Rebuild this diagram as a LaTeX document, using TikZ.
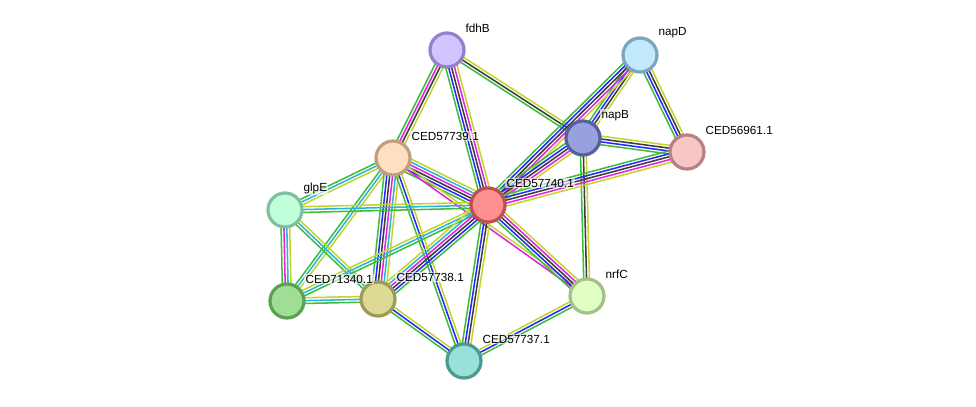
\documentclass[tikz,border=0pt]{standalone}
\usepackage{fontspec}
\setmainfont{Liberation Sans}
\usetikzlibrary{calc, backgrounds}

% evidence channel colours
\definecolor{lnkG}{RGB}{60,190,60}
\definecolor{lnkB}{RGB}{40,40,250}
\definecolor{lnkK}{RGB}{60,60,60}
\definecolor{lnkM}{RGB}{225,35,225}
\definecolor{lnkC}{RGB}{45,180,215}
\definecolor{lnkY}{RGB}{195,212,45}

% one link = several parallel coloured lines between two nodes
\newcommand{\protlink}[3]{%
  \foreach \col [count=\n] in {#3} {\xdef\nlnk{\n}}%
  \foreach \col [count=\i] in {#3} {%
    \pgfmathsetmacro\off{(\i-(\nlnk+1)/2)*2.15}%
    \draw[lnk, draw=\col] ($(#1)!\off pt!90:(#2)$) -- ($(#2)!\off pt!-90:(#1)$);
  }%
}

\begin{document}
\begin{tikzpicture}[
    x=0.75pt, y=-0.75pt,
    % protein bubbles
    prot/.style={
        circle,
        draw,
        line width=2.4pt,
        minimum size=25.5pt,
        inner sep=0pt
    },
    % protein names
    lbl/.style={
        anchor=west,
        font=\fontsize{8.8}{10}\selectfont,
        fill=white, fill opacity=0.6, text opacity=1,
        inner sep=1pt
    },
    lnk/.style={line width=1.15pt}
]
\useasboundingbox (0,0) rectangle (976,407);

% =====================================================================
% PROTEINS
% =====================================================================
\node (fdhB)  [prot, fill={rgb,255:red,209;green,196;blue,255}, draw={rgb,255:red,150;green,128;blue,200}] at (447,50) {};
\node (napD)  [prot, fill={rgb,255:red,194;green,232;blue,251}, draw={rgb,255:red,122;green,166;blue,192}] at (640,55) {};
\node (napB)  [prot, fill={rgb,255:red,152;green,160;blue,221}, draw={rgb,255:red,84;green,96;blue,160}] at (583,138) {};
\node (ced61) [prot, fill={rgb,255:red,247;green,199;blue,199}, draw={rgb,255:red,184;green,128;blue,128}] at (687,152) {};
\node (ced39) [prot, fill={rgb,255:red,255;green,223;blue,191}, draw={rgb,255:red,190;green,160;blue,128}] at (393,158) {};
\node (ced40) [prot, fill={rgb,255:red,255;green,144;blue,144}, draw={rgb,255:red,192;green,80;blue,80}] at (488,205) {};
\node (glpE)  [prot, fill={rgb,255:red,192;green,255;blue,218}, draw={rgb,255:red,128;green,192;blue,160}] at (285,210) {};
\node (ced71) [prot, fill={rgb,255:red,158;green,223;blue,149}, draw={rgb,255:red,94;green,158;blue,85}] at (287,301) {};
\node (ced38) [prot, fill={rgb,255:red,221;green,218;blue,150}, draw={rgb,255:red,158;green,154;blue,88}] at (378,299) {};
\node (nrfC)  [prot, fill={rgb,255:red,225;green,255;blue,195}, draw={rgb,255:red,162;green,192;blue,138}] at (587,296) {};
\node (ced37) [prot, fill={rgb,255:red,153;green,224;blue,216}, draw={rgb,255:red,74;green,154;blue,144}] at (464,361) {};

% =====================================================================
% NAMES
% =====================================================================
\node (fdhBl)  [lbl] at ([shift={(17,-22)}]fdhB.center)  {fdhB};
\node (napDl)  [lbl] at ([shift={(17,-22)}]napD.center)  {napD};
\node (napBl)  [lbl] at ([shift={(17,-22)}]napB.center)  {napB};
\node (ced61l) [lbl] at ([shift={(17,-22)}]ced61.center) {CED56961.1};
\node (ced39l) [lbl] at ([shift={(17,-22)}]ced39.center) {CED57739.1};
\node (ced40l) [lbl] at ([shift={(17,-22)}]ced40.center) {CED57740.1};
\node (glpEl)  [lbl] at ([shift={(17,-22)}]glpE.center)  {glpE};
\node (ced71l) [lbl] at ([shift={(17,-22)}]ced71.center) {CED71340.1};
\node (ced38l) [lbl] at ([shift={(17,-22)}]ced38.center) {CED57738.1};
\node (nrfCl)  [lbl] at ([shift={(17,-22)}]nrfC.center)  {nrfC};
\node (ced37l) [lbl] at ([shift={(17,-22)}]ced37.center) {CED57737.1};

% =====================================================================
% LINKS
% =====================================================================
\begin{pgfonlayer}{background}
\protlink{fdhB}{ced39}{lnkG,lnkM,lnkK,lnkY}
\protlink{fdhB}{ced40}{lnkG,lnkB,lnkK,lnkM,lnkY}
\protlink{fdhB}{napB}{lnkG,lnkK,lnkY}
\protlink{napD}{napB}{lnkG,lnkB,lnkK,lnkY}
\protlink{napD}{ced40}{lnkG,lnkB,lnkK,lnkM,lnkY}
\protlink{napD}{ced61}{lnkG,lnkB,lnkK,lnkY}
\protlink{napB}{ced61}{lnkG,lnkB,lnkK,lnkY}
\protlink{napB}{ced40}{lnkG,lnkB,lnkK,lnkM,lnkY}
\protlink{napB}{nrfC}{lnkG,lnkK,lnkY}
\protlink{ced61}{ced40}{lnkG,lnkB,lnkK,lnkM,lnkY}
\protlink{ced39}{ced40}{lnkG,lnkB,lnkK,lnkM,lnkC,lnkY}
\protlink{ced39}{glpE}{lnkG,lnkC,lnkY}
\protlink{ced39}{ced71}{lnkG,lnkC,lnkY}
\protlink{ced39}{ced38}{lnkG,lnkB,lnkK,lnkM,lnkC,lnkY}
\protlink{ced39}{ced37}{lnkG,lnkB,lnkY}
\protlink{ced39}{nrfC}{lnkM,lnkY}
\protlink{glpE}{ced40}{lnkG,lnkC,lnkY}
\protlink{glpE}{ced71}{lnkG,lnkM,lnkC,lnkY}
\protlink{glpE}{ced38}{lnkG,lnkC,lnkY}
\protlink{ced71}{ced40}{lnkG,lnkC,lnkY}
\protlink{ced71}{ced38}{lnkG,lnkC,lnkY}
\protlink{ced38}{ced40}{lnkG,lnkB,lnkK,lnkM,lnkC,lnkY}
\protlink{ced38}{ced37}{lnkG,lnkB,lnkY}
\protlink{ced40}{ced37}{lnkG,lnkB,lnkK,lnkY}
\protlink{ced40}{nrfC}{lnkG,lnkB,lnkK,lnkM,lnkY}
\protlink{ced37}{nrfC}{lnkG,lnkB,lnkY}
\end{pgfonlayer}

\end{tikzpicture}
\end{document}
